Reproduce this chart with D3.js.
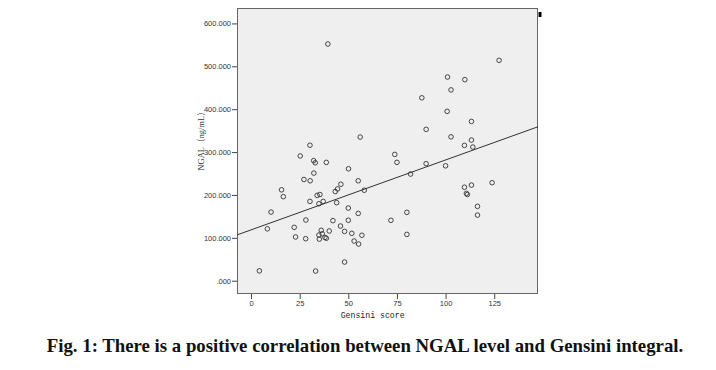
<!DOCTYPE html>
<html>
<head>
<meta charset="utf-8">
<script src="https://cdn.jsdelivr.net/npm/d3@7"></script>
<style>
    body { margin: 0; background: #fff; }
    svg { display: block; }
</style>
</head>
<body>
<div id="chart"></div>
<script>
// gensini score of each patient
let gensini = [39.5, 56.1, 30.3, 25.3, 32.2, 33.0, 38.7, 50.1, 32.3, 27.2,
    30.4, 55.1, 46.2, 58.2, 44.5, 43.3, 15.7, 16.6, 34.0, 35.4,
    34.9, 37.1, 30.3, 44.0, 50.0, 10.3, 28.2, 42.1, 50.0, 55.1,
    46.0, 22.2, 8.4, 36.1, 40.2, 48.1, 34.9, 36.6, 51.8, 57.0,
    22.9, 28.1, 35.1, 38.0, 38.7, 53.0, 55.3, 48.1, 4.3, 33.2,
    127.5, 101.0, 109.9, 102.8, 87.8, 100.8, 113.3, 90.0, 102.8, 113.3,
    109.7, 114.0, 73.9, 75.0, 90.0, 100.0, 82.0, 109.7, 113.3, 123.9,
    110.7, 111.2, 116.4, 116.4, 80.1, 71.9, 80.1];

// NGAL level (ng/mL) of each patient
let ngal = [552, 335, 316, 291, 280, 275, 276, 261, 251, 236,
    233, 233, 225, 211, 214, 208, 212, 196, 199, 201,
    179.5, 185, 185, 182, 169.5, 160, 141.5, 140, 141, 157,
    127.5, 124.5, 121, 117.5, 116, 115, 106.5, 109.5, 110.5, 106,
    102, 98, 97, 101, 99, 92.5, 85.5, 43.5, 23, 22.5,
    514, 475, 469, 445, 426.5, 395, 371.5, 353, 335.5, 328,
    315.6, 311.7, 294.6, 276, 273, 268, 248.7, 218, 223, 228.5,
    203.7, 201, 173.4, 153, 159.4, 140.8, 108];

// fitted line  ngal = a + b * gensini
let fitIntercept = 118.5;
let fitSlope = 1.631;

let xTicks = [0, 25, 50, 75, 100, 125];
let xTickLabels = ["0", "25", "50", "75", "100", "125"];
let yTicks = [0, 100, 200, 300, 400, 500, 600];
let yTickLabels = [".000", "100.000", "200.000", "300.000", "400.000", "500.000", "600.000"];

let xDomain = [-7.2, 147.5];
let yDomain = [-31, 636];

let frame = { width: 716, height: 370 },
    plot = { left: 237, right: 538, top: 8, bottom: 294 };

let svg = d3.select("#chart").append("svg")
    .attr("width", frame.width)
    .attr("height", frame.height);

let x = d3.scaleLinear().domain(xDomain).range([plot.left, plot.right]);
let y = d3.scaleLinear().domain(yDomain).range([plot.bottom, plot.top]);

// plot background
svg.append("rect")
    .attr("x", plot.left)
    .attr("y", plot.top)
    .attr("width", plot.right - plot.left)
    .attr("height", plot.bottom - plot.top)
    .attr("fill", "#efefef");

svg.append("clipPath").attr("id", "clip")
    .append("rect")
    .attr("x", plot.left)
    .attr("y", plot.top)
    .attr("width", plot.right - plot.left)
    .attr("height", plot.bottom - plot.top);

// x axis
let xAxis = svg.append("g")
    .attr("transform", "translate(0," + plot.bottom + ")")
    .call(d3.axisBottom(x)
        .tickValues(xTicks)
        .tickSize(5)
        .tickPadding(2)
        .tickFormat(function (d, i) { return xTickLabels[i]; }));

// y axis
let yAxis = svg.append("g")
    .attr("transform", "translate(" + plot.left + ",0)")
    .call(d3.axisLeft(y)
        .tickValues(yTicks)
        .tickSize(5)
        .tickPadding(1)
        .tickFormat(function (d, i) { return yTickLabels[i]; }));

[xAxis, yAxis].forEach(function (ax) {
    ax.select(".domain").remove();
    ax.selectAll(".tick line").attr("stroke", "#444");
    ax.selectAll(".tick text")
        .attr("fill", "#333")
        .style("font-family", "'Liberation Sans', Arial, sans-serif")
        .style("font-size", "7.5px");
});

// plot border
svg.append("rect")
    .attr("x", plot.left + 0.5)
    .attr("y", plot.top + 0.5)
    .attr("width", plot.right - plot.left - 1)
    .attr("height", plot.bottom - plot.top - 1)
    .attr("fill", "none")
    .attr("stroke", "#666")
    .attr("stroke-width", 1);

// small black mark right of the frame
svg.append("rect")
    .attr("x", plot.right + 0.5)
    .attr("y", plot.top + 4)
    .attr("width", 3)
    .attr("height", 5)
    .attr("fill", "#000");

// regression line
svg.append("line")
    .attr("clip-path", "url(#clip)")
    .attr("x1", x(xDomain[0]))
    .attr("y1", y(fitIntercept + fitSlope * xDomain[0]))
    .attr("x2", x(xDomain[1]))
    .attr("y2", y(fitIntercept + fitSlope * xDomain[1]))
    .attr("stroke", "#333")
    .attr("stroke-width", 1);

// scatter points
svg.append("g")
    .selectAll("circle")
    .data(d3.range(gensini.length))
    .join("circle")
    .attr("cx", function (i) { return x(gensini[i]); })
    .attr("cy", function (i) { return y(ngal[i]); })
    .attr("r", 2.3)
    .attr("fill", "none")
    .attr("stroke", "#333")
    .attr("stroke-width", 0.9);

// axis titles
svg.append("text")
    .attr("x", (x(0) + x(125)) / 2)
    .attr("y", 318)
    .attr("text-anchor", "middle")
    .attr("fill", "#222")
    .style("font-family", "'Liberation Mono', monospace")
    .style("font-size", "8.2px")
    .text("Gensini score");

svg.append("text")
    .attr("transform", "translate(204,139) rotate(-90)")
    .attr("text-anchor", "middle")
    .attr("fill", "#333")
    .style("font-family", "'Liberation Serif', 'Noto Sans CJK SC', serif")
    .style("font-size", "8.5px")
    .text("NGAL（ng/mL）");

// caption
svg.append("text")
    .attr("x", 365)
    .attr("y", 352)
    .attr("text-anchor", "middle")
    .attr("fill", "#111")
    .style("font-family", "'Liberation Serif', 'Times New Roman', serif")
    .style("font-weight", "bold")
    .style("font-size", "18.8px")
    .text("Fig. 1: There is a positive correlation between NGAL level and Gensini integral.");
</script>
</body>
</html>
